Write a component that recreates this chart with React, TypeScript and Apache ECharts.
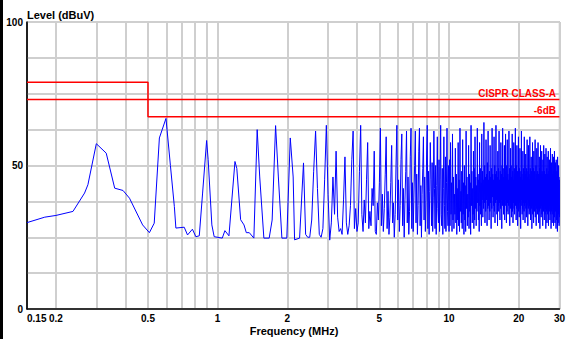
import { useEffect, useRef } from "react";
import * as echarts from "echarts";

// Axis ticks
const X_TICK_LABELS = [0.15, 0.2, 0.5, 1, 2, 5, 10, 20, 30];
const X_GRID = [0.2, 0.3, 0.4, 0.5, 0.6, 0.7, 0.8, 0.9, 1, 2, 3, 4, 5, 6, 7, 8, 9, 10, 20, 30];
const Y_LABELS = [0, 50, 100];

// Limit lines [MHz, dBuV]
const CISPR_A: [number, number][] = [[0.15, 79], [0.5, 79], [0.5, 73], [30, 73]];
const CISPR_A_6DB: [number, number][] = [[0.15, 73], [0.5, 73], [0.5, 67], [30, 67]];

// Measured trace, low band [MHz, dBuV]
const LOW_BAND: [number, number][] = [
  [0.15, 30.1], [0.179, 32.0], [0.2, 32.6], [0.237, 34.0], [0.266, 40.4], [0.275, 43.3],
  [0.299, 57.6], [0.33, 54.3], [0.359, 42.1], [0.39, 41.3], [0.416, 38.6], [0.474, 29.3],
  [0.507, 26.6], [0.532, 29.9], [0.56, 59.6], [0.598, 66.4], [0.625, 50], [0.65, 35.7],
  [0.66, 28.2], [0.717, 28.5], [0.741, 25.8], [0.778, 27.8], [0.805, 25.2], [0.833, 25.5],
  [0.861, 40.4], [0.896, 58.7], [0.91, 52], [0.944, 29.3], [0.966, 25.2], [1.047, 24.7],
  [1.075, 27.3], [1.119, 25.5], [1.188, 51.4], [1.21, 49], [1.257, 31.1], [1.3, 29.3],
  [1.33, 26.6], [1.37, 26.6], [1.434, 24.7], [1.482, 62.5], [1.52, 46], [1.584, 24.7],
  [1.67, 24.7], [1.72, 31], [1.78, 63.9], [1.83, 46], [1.895, 24.7], [1.99, 24.7],
  [2.06, 59.6], [2.12, 46], [2.15, 24.1], [2.26, 24.7], [2.35, 50.9],
];

// Sweep 2.40 .. 10.00 MHz, 0.05 MHz steps
const MID_START = 2.4;
const MID_STEP = 0.05;
const MID_LEVELS = [
  26, 25, 25, 31, 48, 62, 42, 26, 25, 28,
  45, 64, 40, 24, 30, 46, 33, 55, 32, 27,
  28, 26, 38, 53, 30, 26, 29, 36, 52, 62,
  28, 35, 27, 30, 48, 64, 33, 27, 38, 30,
  45, 58, 28, 34, 29, 42, 36, 55, 27, 26,
  37, 31, 44, 63, 29, 40, 27, 35, 47, 60,
  28, 41, 26, 32, 44, 57, 30, 37, 25, 33,
  50, 64, 31, 45, 27, 36, 52, 61, 29, 42,
  25, 38, 48, 62, 30, 46, 26, 34, 53, 63,
  28, 44, 27, 39, 50, 62, 30, 47, 26, 36,
  55, 63, 29, 43, 25, 40, 49, 60, 31, 46,
  27, 37, 54, 64, 28, 48, 26, 41, 58, 45,
  29, 51, 27, 39, 62, 42, 28, 50, 26, 43,
  60, 35, 30, 52, 27, 45, 64, 33, 29, 49,
  26, 42, 60, 36, 28, 53, 27, 44, 63, 34,
  29, 50, 27,
];

// Sweep 10.05 .. 30.00 MHz, 0.05 MHz steps
const HIGH_START = 10.05;
const HIGH_STEP = 0.05;
const HIGH_LEVELS = [
  52, 29, 58, 33, 44, 27, 61, 31, 46, 28, 40, 33, 56, 30, 47, 26, 42, 31, 58, 29,
  45, 27, 63, 34, 41, 30, 48, 28, 59, 33, 44, 26, 50, 31, 43, 27, 62, 35, 46, 29,
  40, 32, 57, 28, 47, 34, 44, 26, 64, 36, 48, 30, 42, 33, 55, 28, 49, 31, 60, 35,
  46, 29, 43, 34, 63, 37, 47, 31, 45, 27, 58, 36, 49, 33, 44, 29, 61, 38, 48, 32,
  45, 35, 65, 37, 50, 30, 46, 34, 59, 38, 47, 29, 51, 35, 62, 36, 45, 31, 48, 34,
  57, 37, 46, 28, 49, 35, 63, 39, 47, 32, 45, 36, 60, 34, 50, 30, 47, 37, 64, 38,
  48, 33, 46, 29, 55, 36, 49, 34, 62, 37, 45, 31, 48, 35, 58, 38, 47, 28, 50, 36,
  63, 37, 46, 33, 49, 35, 57, 31, 48, 36, 61, 38, 46, 30, 50, 34, 59, 37, 47, 33,
  45, 36, 62, 38, 49, 29, 47, 35, 56, 37, 50, 32, 46, 36, 61, 34, 48, 30, 45, 37,
  58, 35, 49, 33, 47, 38, 63, 36, 46, 31, 50, 35, 57, 37, 48, 29, 45, 36, 60, 34,
  47, 32, 49, 37, 56, 35, 46, 28, 48, 36, 62, 38, 47, 33, 45, 35, 55, 31, 49, 37,
  46, 34, 60, 36, 48, 30, 47, 37, 54, 35, 45, 32, 49, 36, 59, 38, 46, 29, 48, 35,
  57, 37, 47, 33, 45, 36, 60, 34, 49, 31, 46, 37, 53, 35, 48, 28, 45, 36, 58, 33,
  47, 35, 49, 30, 55, 37, 46, 34, 48, 36, 59, 32, 45, 37, 50, 29, 47, 35, 56, 36,
  46, 33, 48, 37, 58, 35, 47, 30, 45, 36, 53, 34, 49, 28, 46, 37, 57, 35, 47, 32,
  45, 36, 55, 33, 48, 37, 46, 29, 52, 35, 47, 34, 57, 36, 45, 31, 48, 37, 54, 33,
  46, 35, 47, 28, 56, 36, 45, 34, 49, 30, 53, 37, 46, 33, 47, 35, 55, 29, 45, 36,
  48, 34, 52, 37, 46, 31, 47, 35, 56, 33, 45, 28, 49, 36, 51, 34, 46, 30, 54, 37,
  45, 33, 47, 36, 53, 29, 48, 35, 46, 32, 55, 37, 45, 30, 47, 34, 51, 36, 44, 28,
  52, 35, 46, 31, 48, 36, 45, 27, 53, 34, 47, 30, 44, 35, 50, 33, 46, 29, 45, 32,
];

const FONT = "'Liberation Sans', Arial, sans-serif";

export default function App() {
  const ref = useRef<HTMLDivElement>(null);
  useEffect(() => {
    if (!ref.current) return;
    const chart = echarts.init(ref.current, null, { renderer: "svg" });
    const trace: [number, number][] = [
      ...LOW_BAND,
      ...MID_LEVELS.map((v, i) => [+(MID_START + i * MID_STEP).toFixed(3), v] as [number, number]),
      ...HIGH_LEVELS.map((v, i) => [+(HIGH_START + i * HIGH_STEP).toFixed(3), v] as [number, number]),
    ];
    const fmt = (v: number) => String(+Number(v).toPrecision(3));
    chart.setOption({
      animation: false,
      backgroundColor: "#fff",
      grid: {
        left: 27, right: 6, top: 22, bottom: 30,
        show: true, borderColor: "#000", borderWidth: 1, backgroundColor: "transparent",
      },
      xAxis: {
        type: "log", logBase: 10, min: 0.15, max: 30,
        axisLine: { show: true, lineStyle: { color: "#000", width: 1.5 } },
        axisTick: { show: false, customValues: X_GRID },
        splitLine: { show: true, lineStyle: { color: "#cfcfcf", width: 2 } },
        minorTick: { show: false }, minorSplitLine: { show: false },
        axisLabel: {
          customValues: X_TICK_LABELS, formatter: (v: number) => fmt(v),
          color: "#000", fontFamily: FONT, fontWeight: "bold", fontSize: 10, margin: 4,
          alignMinLabel: "left",
        },
      },
      yAxis: {
        type: "value", min: 0, max: 100, interval: 12.5,
        axisLine: { show: true, lineStyle: { color: "#000", width: 1.5 } },
        axisTick: { show: false },
        splitLine: { show: true, lineStyle: { color: "#cfcfcf", width: 2 } },
        axisLabel: {
          formatter: (v: number) => (Y_LABELS.includes(v) ? String(v) : ""),
          color: "#000", fontFamily: FONT, fontWeight: "bold", fontSize: 10, margin: 4,
        },
      },
      graphic: [
        { type: "rect", left: 0, top: 0, shape: { width: 3, height: 339 }, style: { fill: "#000" }, z: 100 },
        { type: "text", left: 27, top: 9, style: { text: "Level (dBuV)", font: `bold 11px ${FONT}`, fill: "#000" }, z: 100 },
        { type: "text", x: 294, y: 331, style: { text: "Frequency (MHz)", font: `bold 11px ${FONT}`, fill: "#000", align: "center", verticalAlign: "middle" }, z: 100 },
        { type: "text", x: 556, y: 93, style: { text: "CISPR CLASS-A", font: `bold 10px ${FONT}`, fill: "#f00", align: "right", verticalAlign: "middle" }, z: 100 },
        { type: "text", x: 556, y: 110, style: { text: "-6dB", font: `bold 10px ${FONT}`, fill: "#f00", align: "right", verticalAlign: "middle" }, z: 100 },
      ],
      series: [
        {
          type: "line", data: trace, showSymbol: false, symbol: "none",
          lineStyle: { color: "#0000ff", width: 1 }, z: 3, silent: true,
        },
        {
          type: "line", data: CISPR_A, showSymbol: false, symbol: "none",
          lineStyle: { color: "#ff0000", width: 1.5 }, z: 4, silent: true,
        },
        {
          type: "line", data: CISPR_A_6DB, showSymbol: false, symbol: "none",
          lineStyle: { color: "#ff0000", width: 1.5 }, z: 4, silent: true,
        },
      ],
    });
    return () => chart.dispose();
  }, []);
  return <div ref={ref} style={{ position: "fixed", left: 0, top: 0, width: 568, height: 339 }} />;
}
